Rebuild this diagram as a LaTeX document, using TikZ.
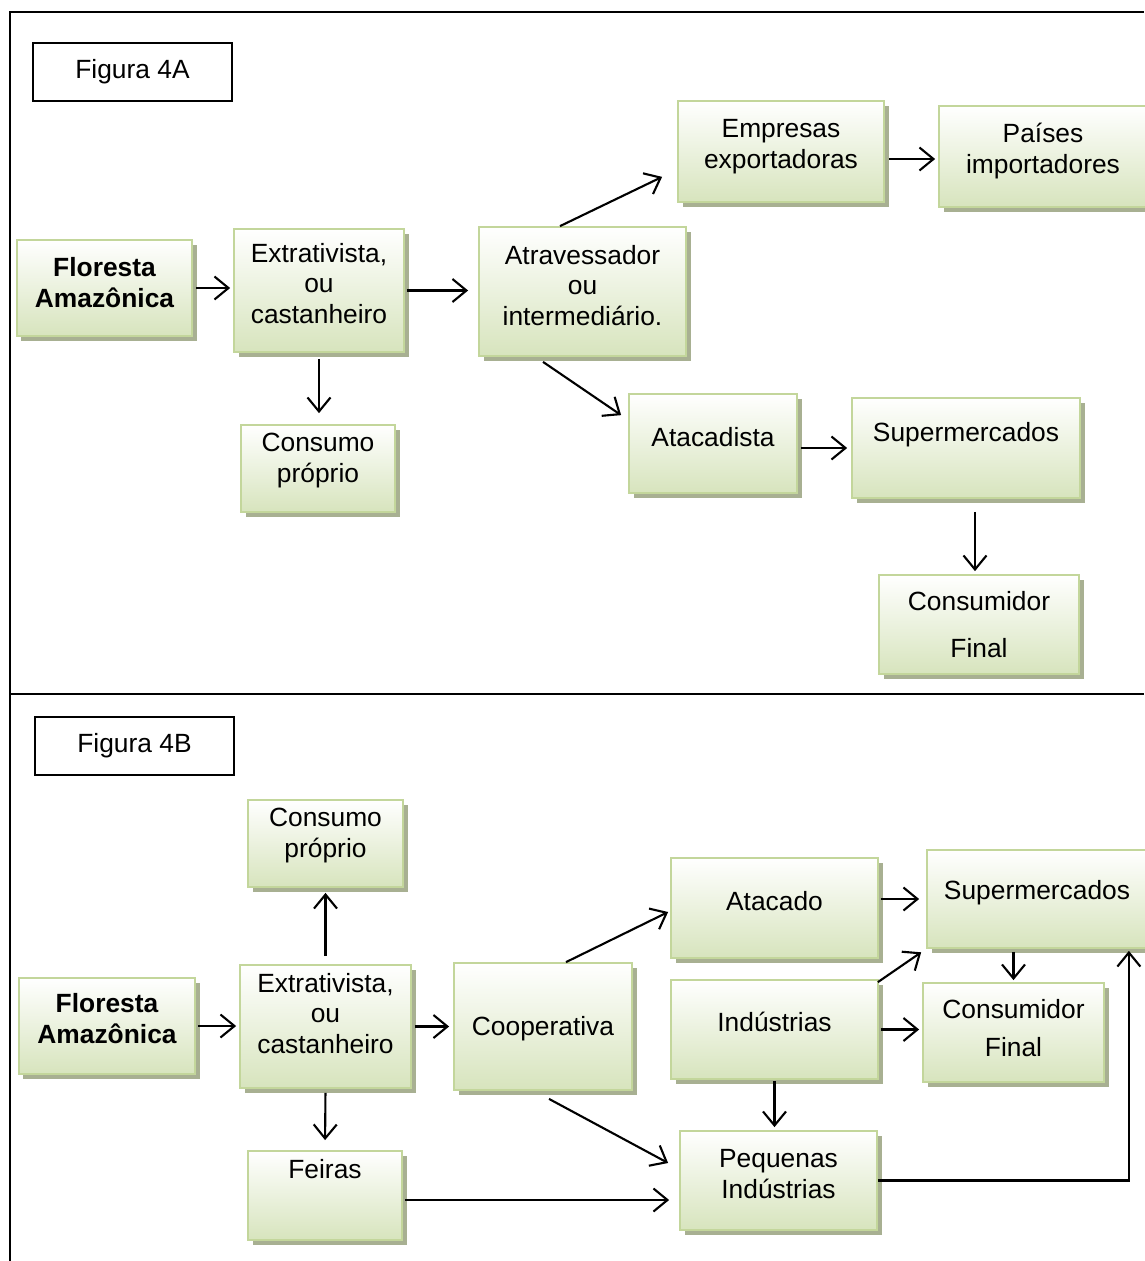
\documentclass[tikz,border=0pt]{standalone}
\usepackage{fontspec}
\setmainfont{Liberation Sans}
\usetikzlibrary{arrows.meta,shadows}
\definecolor{bordaverde}{RGB}{195,214,155}
\definecolor{fundoverde}{RGB}{215,228,189}
\definecolor{sombraverde}{RGB}{168,176,146}
\tikzset{
  caixa/.style={draw=bordaverde, line width=1pt, top color=white, bottom color=fundoverde,
    drop shadow={shadow xshift=0.09cm, shadow yshift=-0.1cm, fill=sombraverde, opacity=1}},
  texto/.style={align=center, yshift=#1},
  texto/.default=0cm,
  negrito/.style={font=\fontsize{15}{17.6}\selectfont\bfseries},
  rotulo/.style={draw=black, line width=1pt, align=center},
  seta/.style={-{Straight Barb[length=0.28cm,width=0.46cm]}, line width=1.2pt},
}
\begin{document}
\begin{tikzpicture}[font=\fontsize{15}{17.6}\selectfont]
\useasboundingbox (0,0) rectangle (22.88,-25.22);
% moldura
\draw[line width=1.1pt] (0.2,-25.22)--(0.2,-0.24)--(22.88,-0.24);
\draw[line width=1.1pt] (0.2,-13.88)--(22.88,-13.88);

% Figura 4A
\node[rotulo, minimum width=3.98cm, minimum height=1.16cm] (fig4A) at (2.65,-1.44) {Figura 4A};
\node[caixa, minimum width=3.50cm, minimum height=1.92cm, label={[texto=0.10cm, negrito]center:Floresta\\Amazônica}] (florA) at (2.09,-5.76) {};
\node[caixa, minimum width=3.40cm, minimum height=2.46cm, label={[texto=0.14cm]center:Extrativista,\\ou\\castanheiro}] (extrA) at (6.38,-5.81) {};
\node[caixa, minimum width=3.08cm, minimum height=1.74cm, label={[texto=0.16cm]center:Consumo\\próprio}] (consA) at (6.36,-9.37) {};
\node[caixa, minimum width=4.14cm, minimum height=2.58cm, label={[texto=0.12cm]center:Atravessador\\ou\\intermediário.}] (atravA) at (11.65,-5.83) {};
\node[caixa, minimum width=4.12cm, minimum height=2.02cm, label={[texto=0.10cm]center:Empresas\\exportadoras}] (empA) at (15.62,-3.03) {};
\node[caixa, minimum width=4.16cm, minimum height=2.02cm, label={[texto=0.11cm]center:Países\\importadores}] (paisA) at (20.86,-3.13) {};
\node[caixa, minimum width=3.36cm, minimum height=1.98cm, label={[texto=0.12cm]center:Atacadista}] (atacA) at (14.26,-8.87) {};
\node[caixa, minimum width=4.56cm, minimum height=2.00cm, label={[texto=0.26cm]center:Supermercados}] (superA) at (19.32,-8.96) {};
\node[caixa, minimum width=4.00cm, minimum height=1.98cm, label={[texto]center:Consumidor\\[0.32cm]Final}] (finalA) at (19.58,-12.49) {};

\draw[seta, shorten <=0.06cm, shorten >=0.06cm] (florA.east) -- (florA.east -| extrA.west);
\draw[seta, shorten <=0.04cm, shorten >=0.2cm] (extrA.east) -- (extrA.east -| atravA.west);
\draw[seta, shorten <=0.12cm, shorten >=0.22cm] (extrA.south) -- (extrA.south |- consA.north);
\draw[seta] ([xshift=-0.45cm]atravA.north) -- ([shift={(-0.3,0.52)}]empA.south west);
\draw[seta] ([shift={(-0.79,-0.1)}]atravA.south) -- ([shift={(-0.14,-0.44)}]atacA.north west);
\draw[seta, shorten <=0.08cm, shorten >=0.06cm] ([yshift=-0.15cm]empA.east) -- ([yshift=-0.15cm]empA.east -| paisA.west);
\draw[seta, shorten <=0.06cm, shorten >=0.08cm] (atacA.east |- superA.west) -- (superA.west);
\draw[seta, shorten <=0.26cm, shorten >=0.06cm] ([xshift=0.18cm]superA.south) -- ([xshift=0.18cm]superA.south |- finalA.north);

% Figura 4B
\node[rotulo, minimum width=3.98cm, minimum height=1.16cm] (fig4B) at (2.69,-14.92) {Figura 4B};
\node[caixa, minimum width=3.10cm, minimum height=1.74cm, label={[texto=0.16cm]center:Consumo\\próprio}] (consB) at (6.51,-16.87) {};
\node[caixa, minimum width=3.52cm, minimum height=1.92cm, label={[texto=0.15cm, negrito]center:Floresta\\Amazônica}] (florB) at (2.14,-20.52) {};
\node[caixa, minimum width=3.42cm, minimum height=2.46cm, label={[texto=0.26cm]center:Extrativista,\\ou\\castanheiro}] (extrB) at (6.51,-20.53) {};
\node[caixa, minimum width=3.08cm, minimum height=1.78cm, label={[texto=0.52cm]center:Feiras}] (feirasB) at (6.50,-23.91) {};
\node[caixa, minimum width=3.56cm, minimum height=2.54cm, label={[texto=-0.05cm]center:Cooperativa}] (coopB) at (10.86,-20.53) {};
\node[caixa, minimum width=4.14cm, minimum height=2.00cm, label={[texto=0.14cm]center:Atacado}] (atacB) at (15.49,-18.16) {};
\node[caixa, minimum width=4.40cm, minimum height=1.96cm, label={[texto=0.12cm]center:Supermercados}] (superB) at (20.74,-17.98) {};
\node[caixa, minimum width=4.14cm, minimum height=1.98cm, label={[texto=0.15cm]center:Indústrias}] (indB) at (15.49,-20.59) {};
\node[caixa, minimum width=3.62cm, minimum height=1.98cm, label={[texto=0.09cm]center:Consumidor\\[0.14cm]Final}] (finalB) at (20.27,-20.65) {};
\node[caixa, minimum width=3.94cm, minimum height=1.98cm, label={[texto=0.13cm]center:Pequenas\\Indústrias}] (pequenasB) at (15.57,-23.61) {};

\draw[seta, shorten <=0.16cm, shorten >=0.1cm] (extrB.north) -- (consB.south);
\draw[seta, shorten <=0.04cm, shorten >=0.06cm] (florB.east) -- (florB.east -| extrB.west);
\draw[seta, shorten <=0.06cm, shorten >=0.08cm] (extrB.east) -- (extrB.east -| coopB.west);
\draw[seta, shorten <=0.08cm, shorten >=0.2cm] (extrB.south) -- (feirasB.north);
\draw[seta] ([xshift=0.46cm]coopB.north) -- ([shift={(-0.04,-0.08)}]atacB.west);
\draw[seta] ([shift={(0.12,-0.16)}]coopB.south) -- ([shift={(-0.22,0.35)}]pequenasB.west);
\draw[seta, shorten <=0.04cm, shorten >=0.2cm] ([yshift=-0.09cm]feirasB.east) -- ([yshift=-0.09cm]feirasB.east -| pequenasB.west);
\draw[seta, shorten <=0.04cm, shorten >=0.14cm] (atacB.east |- superB.west) -- (superB.west);
\draw[seta, shorten >=0.12cm] ([xshift=-0.02cm, yshift=-0.06cm]indB.north east) -- (superB.south west);
\draw[seta, shorten <=0.04cm, shorten >=0.06cm] (indB.east) -- (indB.east -| finalB.west);
\draw[seta, shorten <=0.06cm, shorten >=0.04cm] (finalB.north |- superB.south) -- (finalB.north);
\draw[seta, shorten <=0.02cm, shorten >=0.06cm] (indB.south) -- (indB.south |- pequenasB.north);
\draw[seta, shorten >=0.04cm] (pequenasB.east) -| ([xshift=-0.38cm]superB.south east);
\end{tikzpicture}
\end{document}
